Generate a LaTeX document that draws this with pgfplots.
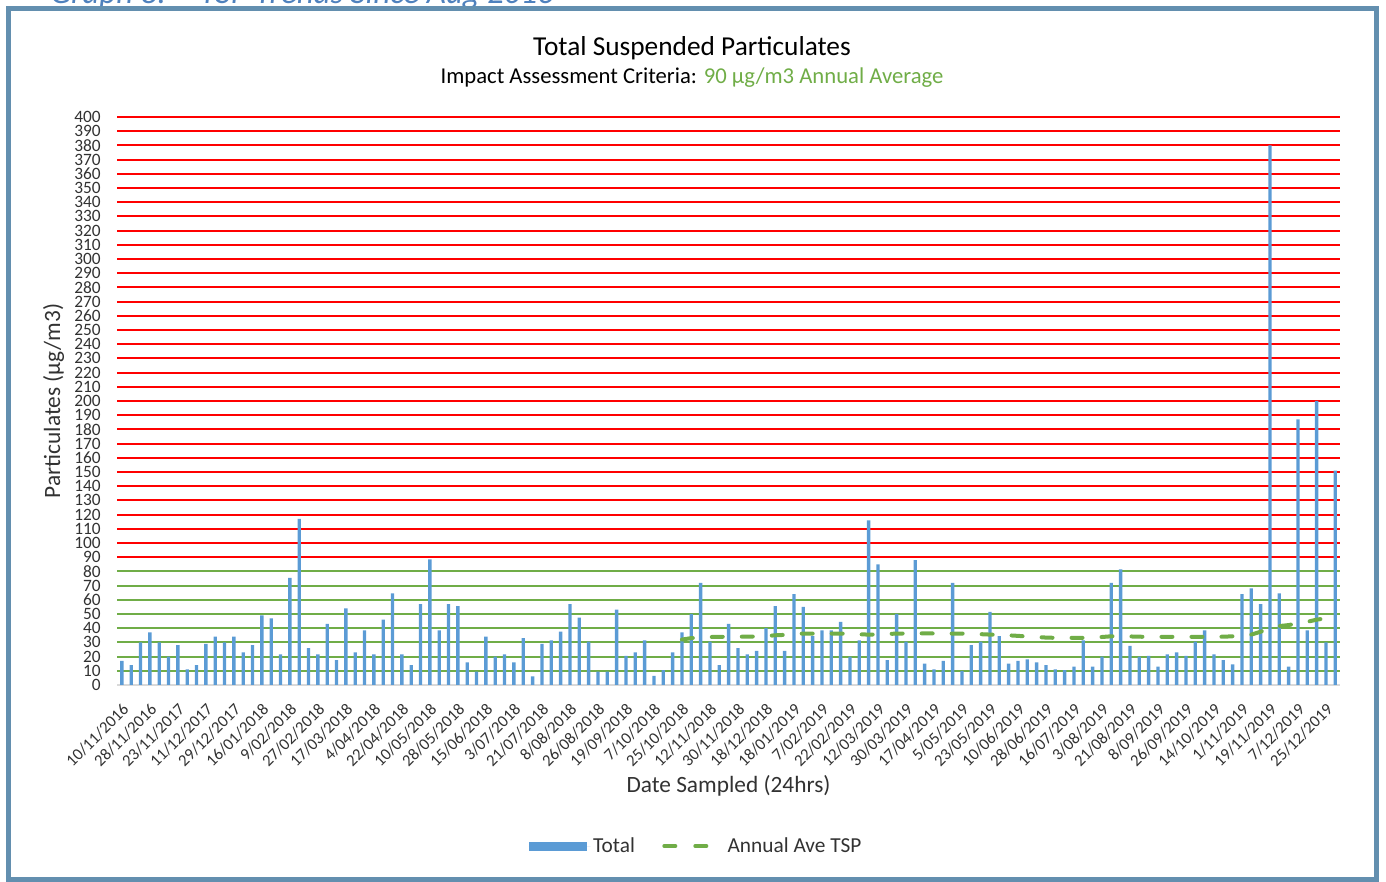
\documentclass[border=0pt]{standalone}
\usepackage{pgfplots}
\pgfplotsset{compat=1.18}
\usepackage{pgfplotstable}
\usepackage{fontspec}
\setmainfont{Carlito}
\definecolor{barblue}{RGB}{91,155,213}
\definecolor{grgreen}{RGB}{112,173,71}
\definecolor{grred}{RGB}{255,0,0}
\definecolor{framec}{RGB}{99,143,175}
\definecolor{txt}{RGB}{50,50,50}
\definecolor{axgray}{RGB}{217,217,217}
\definecolor{capblue}{RGB}{79,129,189}

\pgfplotstableread{
x y
1 17
2 14
3 30
4 37
5 30
6 20
7 28
8 11
9 14
10 29
11 34
12 30
13 34
14 23
15 28
16 49
17 47
18 21.5
19 75.5
20 117
21 26
22 21.5
23 43
24 17.5
25 54
26 23
27 38.5
28 21.5
29 46
30 64.5
31 21.5
32 14
33 57
34 88.5
35 38.5
36 57
37 55.5
38 16
39 9.5
40 34
41 20
42 21.5
43 16
44 33
45 6
46 29
47 31.5
48 37.5
49 57
50 47.5
51 30.5
52 9.5
53 9.5
54 53
55 20.5
56 23
57 31.5
58 6.5
59 10.5
60 23
61 37
62 50
63 72
64 30.5
65 14
66 43
67 26
68 21.5
69 24
70 40
71 55.5
72 24
73 64
74 55
75 34.5
76 38.5
77 38.5
78 44.5
79 20
80 31.5
81 116
82 85
83 17.5
84 50
85 30.5
86 88
87 15
88 11
89 17
90 72
91 10
92 28
93 30.5
94 51.5
95 34.5
96 15
97 17
98 18
99 16
100 14
101 11
102 10.5
103 13
104 31.5
105 13
106 20
107 72
108 81.5
109 27.5
110 20
111 20.5
112 13
113 21.5
114 23
115 20.5
116 30.5
117 38.5
118 21.5
119 17.5
120 14.5
121 64
122 68
123 57
124 380
125 64.5
126 13
127 187
128 38.5
129 200
130 30
131 151
}\tsp

\pgfplotstableread{
x y
61 32
62 33
63 33.5
64 33.8
65 33.9
66 34
67 34
68 34
69 34.2
70 34.5
71 35
72 35.3
73 35.8
74 36.2
75 36.2
76 36.2
77 36.2
78 36.2
79 36
80 35.7
81 35.5
82 35.6
83 35.9
84 36.2
85 36.3
86 36.3
87 36.4
88 36.3
89 36.2
90 36.2
91 36.2
92 36.1
93 35.8
94 35.5
95 35.3
96 35
97 34.6
98 34.2
99 33.8
100 33.4
101 33.2
102 33.2
103 33.2
104 33.2
105 33.3
106 33.8
107 34.3
108 34.5
109 34.2
110 34
111 33.9
112 33.9
113 33.9
114 33.9
115 33.9
116 33.9
117 33.9
118 33.9
119 34
120 34.3
121 34.5
122 35.5
123 37.5
124 40
125 41.5
126 42.2
127 43.5
128 44.5
129 46
130 47
131 48.5
}\ave

\begin{document}
\begin{tikzpicture}[x=1pt,y=1pt]
\path[use as bounding box] (0,0) rectangle (1039.5,661.5);
\node[anchor=base west, font=\fontsize{24.7}{28}\selectfont\itshape, text=capblue, inner sep=0pt] at (37.5,658.5) {Graph 8: – TSP Trends Since Aug 2016};
\node[font=\fontsize{20.5}{24}\selectfont, anchor=base, inner sep=0pt] at (519,619.5) {Total Suspended Particulates};
\node[font=\fontsize{17}{20}\selectfont, anchor=base, inner sep=0pt] at (519,598.5) {Impact Assessment Criteria: \textcolor{grgreen}{90 µg/m3 Annual Average}};
\begin{axis}[
  at={(88.125pt,147.75pt)}, anchor=south west,
  width=916.5pt, height=426pt, scale only axis,
  xmin=0.53, xmax=131.45, ymin=0, ymax=400,
  axis x line*=bottom, axis y line*=left,
  x axis line style={-, draw=axgray, line width=1.5pt},
  y axis line style={draw=none},
  /pgf/number format/assume math mode=true,
  ytick={0,10,...,400},
  minor ytick={90,100,...,400},
  yminorgrids=true,
  minor grid style={grred, line width=1.5pt},
  extra y ticks={10,20,...,80},
  extra y tick labels={},
  extra y tick style={grid=major, major grid style={grgreen, line width=1.5pt}},
  major tick length=0pt, minor tick length=0pt,
  tick style={draw=none},
  yticklabel style={font=\fontsize{13}{13}\selectfont, text=txt, anchor=east, inner sep=0pt, xshift=-12.4pt},
  xtick={1,4,...,130},
  xticklabels={10/11/2016,28/11/2016,23/11/2017,11/12/2017,29/12/2017,16/01/2018,9/02/2018,27/02/2018,17/03/2018,4/04/2018,22/04/2018,10/05/2018,28/05/2018,15/06/2018,3/07/2018,21/07/2018,8/08/2018,26/08/2018,19/09/2018,7/10/2018,25/10/2018,12/11/2018,30/11/2018,18/12/2018,18/01/2019,7/02/2019,22/02/2019,12/03/2019,30/03/2019,17/04/2019,5/05/2019,23/05/2019,10/06/2019,28/06/2019,16/07/2019,3/08/2019,21/08/2019,8/09/2019,26/09/2019,14/10/2019,1/11/2019,19/11/2019,7/12/2019,25/12/2019},
  xticklabel style={font=\fontsize{12.5}{13}\selectfont, text=txt, inner sep=0pt, xshift=3pt, yshift=-16.5pt, rotate=45, anchor=east},
  xlabel={Date Sampled (24hrs)},
  xlabel style={at={(axis description cs:0.5,0)}, anchor=base, yshift=-80.45pt, font=\fontsize{17.5}{20}\selectfont, text=txt, inner sep=0pt},
  ylabel={Particulates (µg/m3)},
  ylabel style={at={(axis description cs:-0.04703,0.5)}, rotate=0, anchor=base, font=\fontsize{17.5}{20}\selectfont, text=txt, inner sep=0pt},
  legend style={at={(axis description cs:0.4738,-0.2835)}, anchor=center, draw=none, fill=none, font=\fontsize{16}{20}\selectfont, text=txt, /tikz/every even column/.append style={column sep=18.5pt}},
  legend columns=2,
  legend cell align=left,
]
\addplot[ybar, bar width=2.5pt, bar shift=0pt, fill=barblue, draw=none,
  legend image code/.code={\fill[barblue] (0pt,-3.375pt) rectangle (43.5pt,3.375pt); \path[draw=none] (0pt,0pt) -- (46.3pt,0pt);}]
  table[x=x,y=y]{\tsp};
\addlegendentry{Total}
\addplot[grgreen, line width=3pt, dash pattern=on 8.25pt off 14.25pt, line cap=round,
  legend image code/.code={\draw[grgreen, line width=3pt, line cap=round, dash pattern=on 8.25pt off 15pt] (1.5pt,0pt) -- (33.75pt,0pt); \path[draw=none] (0pt,0pt) -- (47pt,0pt);}]
  table[x=x,y=y]{\ave};
\addlegendentry{Annual Ave TSP}
\end{axis}
\draw[framec, line width=3.75pt] (6,1.5) rectangle (1032.4,654.75);
\end{tikzpicture}
\end{document}
